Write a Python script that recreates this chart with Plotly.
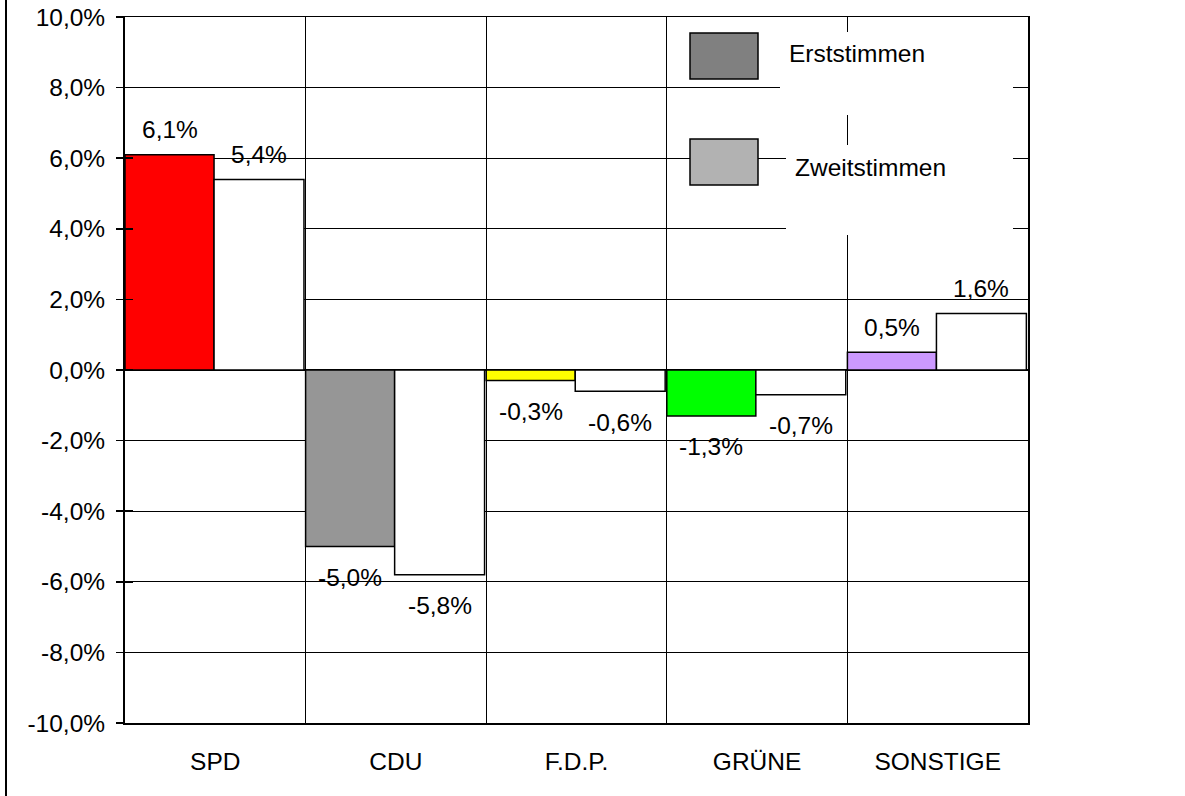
import plotly.graph_objects as go

# ---------------- data ----------------
parties = ["SPD", "CDU", "F.D.P.", "GRÜNE", "SONSTIGE"]
erststimmen = [6.1, -5.0, -0.3, -1.3, 0.5]
zweitstimmen = [5.4, -5.8, -0.6, -0.7, 1.6]
erst_labels = ["6,1%", "-5,0%", "-0,3%", "-1,3%", "0,5%"]
zweit_labels = ["5,4%", "-5,8%", "-0,6%", "-0,7%", "1,6%"]
party_colors = ["#ff0000", "#969696", "#ffff00", "#00ff00", "#cc99ff"]
y_tick_values = [-10, -8, -6, -4, -2, 0, 2, 4, 6, 8, 10]
y_tick_labels = ["-10,0%", "-8,0%", "-6,0%", "-4,0%", "-2,0%", "0,0%",
                 "2,0%", "4,0%", "6,0%", "8,0%", "10,0%"]
legend_names = ["Erststimmen", "Zweitstimmen"]
legend_colors = ["#808080", "#b2b2b2"]

# ---------------- layout constants ----------------
W, H = 1185, 796
# plot area in pixels
L, R, T, B = 125, 1028, 17, 723
FONT = "Liberation Sans, Arial, sans-serif"
FS = 24.5


def px_x(px):
    return (px - L) / (R - L)


def px_y(py):
    return (B - py) / (B - T)


idx = list(range(len(parties)))
erst_off, erst_w = -0.5, 0.493
zweit_off, zweit_w = -0.007, 0.498

fig = go.Figure()
fig.add_trace(go.Bar(
    x=idx, y=erststimmen, offset=erst_off, width=erst_w,
    marker=dict(color=party_colors, line=dict(color="black", width=1.5)),
    name=legend_names[0], showlegend=False, hoverinfo="skip",
))
fig.add_trace(go.Bar(
    x=idx, y=zweitstimmen, offset=zweit_off, width=zweit_w,
    marker=dict(color="white", line=dict(color="black", width=1.5)),
    name=legend_names[1], showlegend=False, hoverinfo="skip",
))
# invisible trace to carry the inner tick axis
fig.add_trace(go.Scatter(x=[idx[0]], y=[0], yaxis="y2", mode="markers",
                         marker=dict(opacity=0), showlegend=False, hoverinfo="skip"))

annotations = []
for vals, labels, off, w in ((erststimmen, erst_labels, erst_off, erst_w),
                             (zweitstimmen, zweit_labels, zweit_off, zweit_w)):
    for i, (v, lab) in enumerate(zip(vals, labels)):
        annotations.append(dict(
            x=i + off + w / 2, y=v, xref="x", yref="y", text=lab,
            showarrow=False, xanchor="center", yanchor="middle",
            yshift=25 if v > 0 else -31,
            font=dict(family=FONT, size=FS, color="black"),
        ))

shapes = []
# outer frame line on the left
shapes.append(dict(type="line", xref="paper", yref="paper", xsizemode="pixel",
                   xanchor=0, x0=6 - L, x1=6 - L, y0=-0.2, y1=1.1,
                   line=dict(color="black", width=2)))
# legend white text boxes
for (x0, y0, x1, y1) in [(780, 32, 1013, 115), (786, 145, 1013, 235)]:
    shapes.append(dict(type="rect", xref="paper", yref="paper",
                       x0=px_x(x0), x1=px_x(x1), y0=px_y(y1), y1=px_y(y0),
                       fillcolor="white", line=dict(width=0), layer="above"))
# legend swatches
for (y0, y1), col in zip([(33, 79), (139, 185)], legend_colors):
    shapes.append(dict(type="rect", xref="paper", yref="paper",
                       x0=px_x(690), x1=px_x(758), y0=px_y(y1), y1=px_y(y0),
                       fillcolor=col, line=dict(color="black", width=1.5),
                       layer="above"))
for name, (tx, ty) in zip(legend_names, [(787, 54), (793, 168)]):
    annotations.append(dict(
        x=px_x(tx), y=px_y(ty), xref="paper", yref="paper", text=name,
        showarrow=False, xanchor="left", yanchor="middle",
        font=dict(family=FONT, size=FS, color="black"),
    ))

fig.update_layout(
    width=W, height=H,
    margin=dict(l=L, r=W - R, t=T, b=H - B, pad=0, autoexpand=False),
    paper_bgcolor="white", plot_bgcolor="white",
    barmode="overlay",
    font=dict(family=FONT, size=FS, color="black"),
    showlegend=False,
    xaxis=dict(
        range=[-0.5, len(parties) - 0.5], tickmode="array",
        tickvals=idx, ticktext=parties, showgrid=False, zeroline=False,
        ticks="", ticklabelstandoff=16, automargin=False,
        showline=True, mirror=True, linecolor="black", linewidth=1.5,
        minor=dict(tickmode="array", tickvals=[i + 0.5 for i in idx[:-1]],
                   showgrid=True, gridcolor="black", gridwidth=1, ticks=""),
        tickfont=dict(family=FONT, size=FS, color="black"),
    ),
    yaxis=dict(
        range=[-10, 10], tickmode="array", tickvals=y_tick_values,
        ticktext=y_tick_labels, showgrid=True, gridcolor="black", gridwidth=1,
        zeroline=True, zerolinecolor="black", zerolinewidth=2.5,
        ticks="outside", ticklen=7, tickwidth=1.5, tickcolor="black",
        ticklabelstandoff=6, automargin=False,
        showline=True, mirror=True, linecolor="black", linewidth=2,
        tickfont=dict(family=FONT, size=FS, color="black"),
    ),
    yaxis2=dict(
        overlaying="y", side="left", range=[-10, 10], tickmode="array",
        tickvals=y_tick_values, showticklabels=False, showgrid=False,
        zeroline=False, ticks="inside", ticklen=8, tickwidth=1.5,
        tickcolor="black", showline=False, automargin=False,
    ),
    shapes=shapes,
    annotations=annotations,
)

fig.write_html("out.html",
               config={"displayModeBar": False, "staticPlot": True},
               post_script="document.body.style.margin='0';")
